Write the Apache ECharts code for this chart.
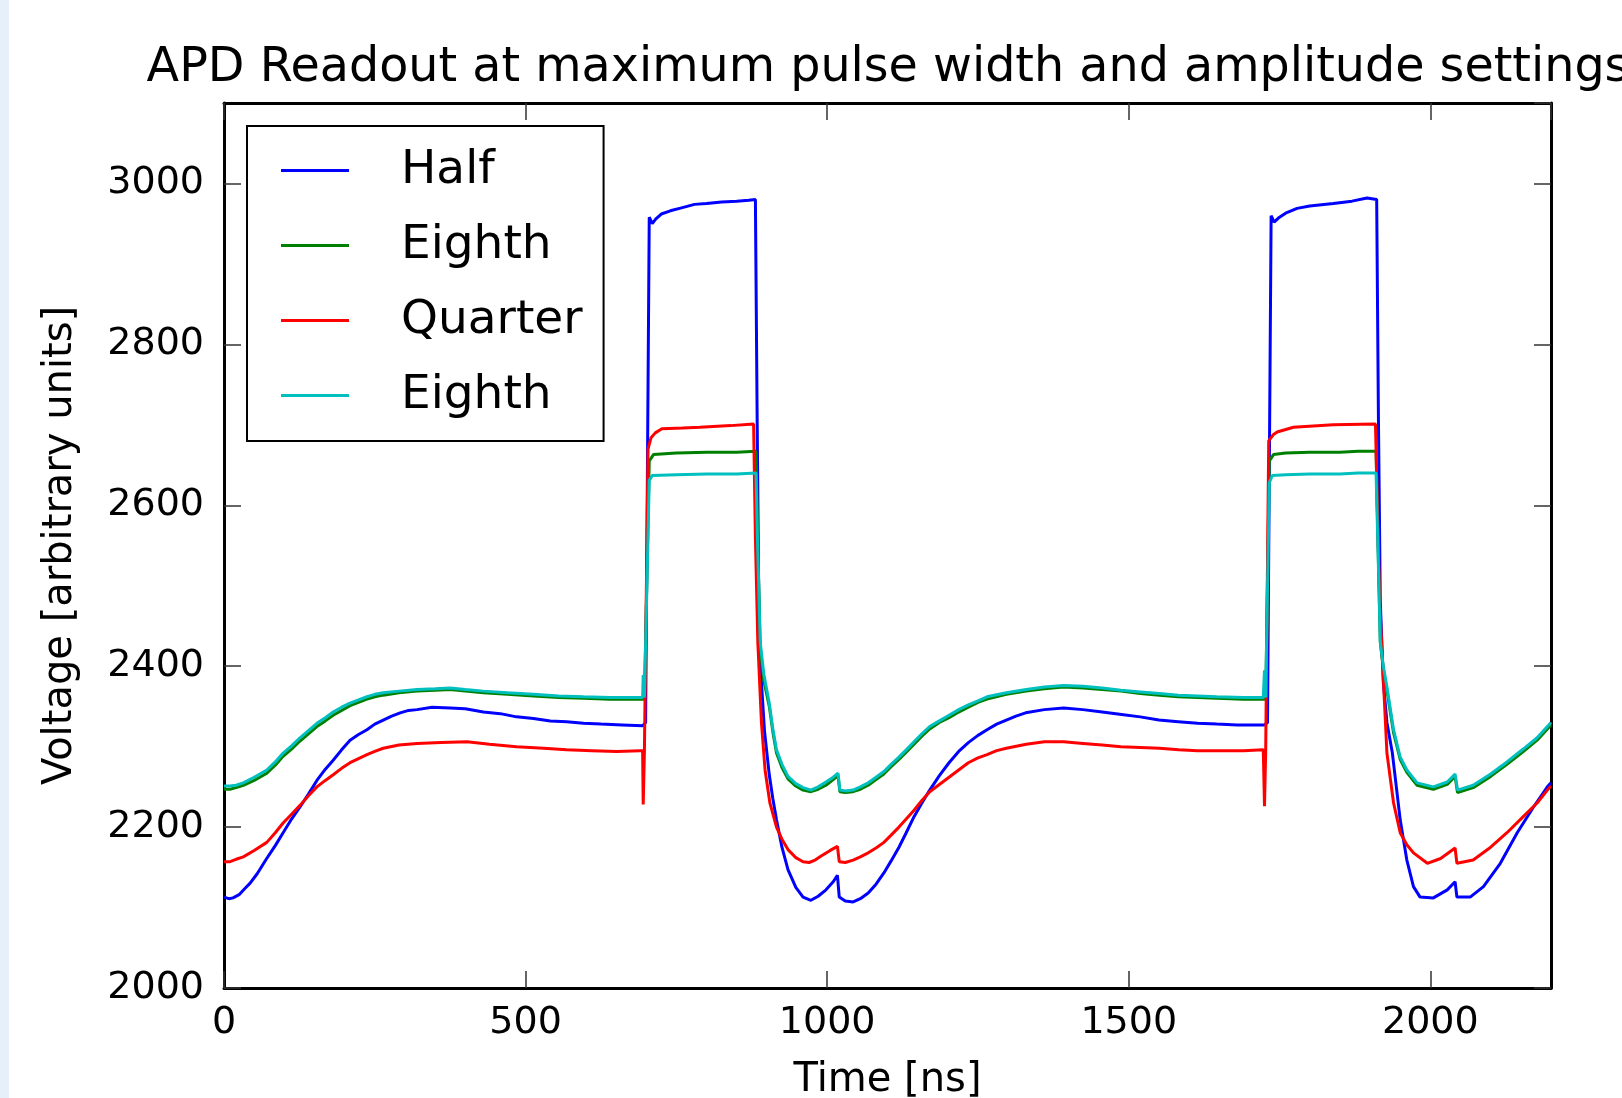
<!DOCTYPE html>
<html>
<head>
<meta charset="utf-8">
<script src="https://cdn.jsdelivr.net/npm/echarts@6/dist/echarts.min.js"></script>
<style>
html,body{margin:0;padding:0;background:#fff;}
#strip{position:absolute;left:0;top:0;width:9px;height:1098px;background:#e6f0fa;}
#chart{position:absolute;left:0;top:0;width:1622px;height:1098px;}
</style>
</head>
<body>
<div id="strip"></div>
<div id="chart"></div>
<script>
// ---------- data (time [ns], voltage [a.u.]) ----------
const chartTitle = 'APD Readout at maximum pulse width and amplitude settings';
const xName = 'Time [ns]';
const yName = 'Voltage [arbitrary units]';
const seriesNames = ['Half', 'Eighth', 'Quarter', 'Eighth'];
const seriesColors = ['#0000ff', '#008000', '#ff0000', '#00bfbf'];

const half = [
[0,2113],[8,2111],[15,2112],[25,2116],[35,2124],[43,2130],[55,2142],[70,2160],[85,2177],[98,2193],[112,2210],[126,2225],[140,2241],[154,2258],[168,2272],[181,2283],[195,2296],[209,2308],[223,2315],[237,2321],[250,2328],[264,2333],[278,2338],[292,2342],[306,2345],[320,2346],[345,2349],[375,2348],[400,2347],[430,2343],[458,2341],[485,2337],[513,2335],[541,2332],[568,2331],[596,2329],[625,2328],[660,2327],[694,2326],[699,2330],[705,2958],[710,2950],[716,2956],[725,2962],[740,2966],[760,2970],[780,2974],[800,2975],[825,2977],[850,2978],[870,2979],[881,2980],[884,2700],[887,2450],[891,2380],[896,2320],[904,2265],[910,2235],[916,2209],[925,2175],[935,2147],[948,2125],[960,2113],[973,2109],[985,2114],[998,2122],[1010,2132],[1017,2140],[1020,2113],[1030,2108],[1043,2107],[1055,2111],[1068,2118],[1081,2129],[1094,2143],[1106,2158],[1119,2175],[1131,2193],[1144,2213],[1157,2230],[1170,2246],[1186,2264],[1202,2280],[1218,2294],[1234,2305],[1250,2314],[1265,2321],[1281,2328],[1297,2333],[1313,2338],[1329,2342],[1360,2346],[1392,2348],[1424,2346],[1456,2343],[1488,2340],[1519,2337],[1550,2333],[1582,2331],[1614,2329],[1646,2328],[1680,2327],[1725,2327],[1730,2330],[1736,2960],[1741,2952],[1748,2957],[1760,2963],[1779,2969],[1800,2972],[1839,2975],[1870,2978],[1895,2982],[1911,2980],[1914,2700],[1917,2480],[1922,2380],[1928,2330],[1937,2292],[1950,2209],[1961,2159],[1972,2126],[1983,2113],[2005,2112],[2028,2122],[2041,2132],[2044,2113],[2066,2113],[2088,2126],[2116,2155],[2144,2193],[2171,2225],[2194,2250],[2200,2255]
];

const eighthA = [
[0,2247],[10,2247],[20,2249],[32,2252],[50,2258],[71,2267],[85,2277],[98,2288],[112,2297],[126,2307],[140,2316],[154,2325],[168,2332],[181,2339],[195,2345],[209,2351],[223,2355],[237,2359],[250,2362],[264,2364],[290,2367],[320,2369],[350,2370],[375,2371],[400,2369],[430,2367],[470,2365],[513,2363],[555,2361],[596,2360],[640,2359],[690,2359],[697,2359],[699,2360],[705,2655],[712,2663],[750,2665],[800,2666],[850,2666],[882,2667],[885,2550],[889,2420],[895,2382],[904,2350],[910,2318],[916,2292],[925,2274],[935,2260],[948,2251],[960,2246],[973,2244],[985,2247],[998,2252],[1010,2259],[1018,2264],[1021,2244],[1030,2243],[1043,2244],[1055,2247],[1068,2252],[1081,2259],[1094,2266],[1106,2275],[1119,2284],[1131,2293],[1144,2303],[1157,2313],[1170,2322],[1186,2330],[1202,2336],[1218,2343],[1234,2349],[1250,2355],[1265,2359],[1297,2365],[1330,2369],[1360,2372],[1392,2374],[1424,2373],[1456,2371],[1487,2369],[1519,2366],[1551,2364],[1582,2362],[1614,2361],[1646,2360],[1690,2359],[1727,2359],[1729,2360],[1733,2655],[1740,2663],[1760,2665],[1800,2666],[1850,2666],[1880,2667],[1910,2667],[1913,2560],[1917,2430],[1922,2396],[1928,2370],[1939,2317],[1950,2284],[1961,2268],[1978,2252],[2005,2247],[2028,2253],[2041,2263],[2045,2243],[2071,2249],[2100,2263],[2127,2278],[2154,2294],[2177,2308],[2200,2327]
];

const quarter = [
[0,2157],[10,2157],[20,2160],[32,2163],[50,2171],[71,2181],[85,2193],[98,2205],[112,2216],[126,2227],[140,2239],[154,2250],[168,2258],[181,2265],[195,2273],[209,2280],[223,2285],[237,2290],[250,2294],[264,2298],[290,2302],[320,2304],[360,2305],[403,2306],[440,2303],[485,2300],[530,2298],[568,2296],[610,2295],[651,2294],[690,2295],[694,2295],[695,2228],[697,2295],[699,2296],[703,2670],[708,2684],[715,2690],[726,2695],[760,2696],[789,2697],[840,2699],[878,2701],[881,2560],[885,2430],[891,2330],[897,2271],[905,2230],[916,2200],[925,2185],[935,2172],[948,2162],[960,2157],[970,2156],[980,2159],[990,2164],[1005,2171],[1017,2176],[1020,2157],[1030,2156],[1043,2159],[1055,2163],[1068,2168],[1081,2174],[1094,2181],[1106,2190],[1119,2200],[1131,2210],[1144,2221],[1157,2233],[1170,2244],[1186,2253],[1202,2262],[1218,2271],[1234,2280],[1250,2286],[1265,2290],[1281,2295],[1297,2298],[1330,2303],[1360,2306],[1392,2306],[1424,2304],[1456,2302],[1487,2300],[1519,2299],[1551,2298],[1583,2296],[1614,2295],[1650,2295],[1690,2295],[1723,2296],[1725,2226],[1727,2295],[1729,2296],[1732,2680],[1740,2688],[1746,2691],[1773,2697],[1839,2700],[1909,2701],[1912,2600],[1916,2480],[1920,2416],[1928,2292],[1939,2230],[1950,2193],[1961,2178],[1972,2168],[1995,2155],[2017,2161],[2041,2174],[2044,2155],[2071,2159],[2100,2175],[2127,2193],[2154,2213],[2177,2230],[2194,2246],[2200,2251]
];

const eighthB = [
[0,2251],[10,2251],[20,2252],[32,2255],[50,2262],[71,2271],[85,2281],[98,2292],[112,2301],[126,2311],[140,2320],[154,2329],[168,2336],[181,2343],[195,2349],[209,2354],[223,2358],[237,2362],[250,2365],[264,2367],[290,2369],[320,2371],[350,2372],[375,2373],[400,2371],[430,2369],[470,2367],[513,2365],[555,2363],[596,2362],[640,2361],[690,2361],[694,2361],[695,2389],[697,2361],[699,2362],[705,2631],[710,2637],[750,2638],[800,2639],[850,2639],[882,2640],[885,2540],[889,2430],[895,2390],[904,2354],[910,2322],[916,2296],[925,2278],[935,2263],[948,2254],[960,2249],[973,2246],[985,2250],[998,2256],[1010,2262],[1018,2267],[1021,2246],[1030,2245],[1043,2246],[1055,2250],[1068,2255],[1081,2262],[1094,2269],[1106,2278],[1119,2287],[1131,2296],[1144,2306],[1157,2316],[1170,2325],[1186,2332],[1202,2339],[1218,2346],[1234,2352],[1250,2357],[1265,2362],[1297,2367],[1330,2371],[1360,2374],[1392,2376],[1424,2375],[1456,2373],[1487,2370],[1519,2368],[1551,2366],[1582,2364],[1614,2363],[1646,2362],[1690,2361],[1723,2361],[1725,2395],[1727,2361],[1729,2362],[1733,2628],[1738,2637],[1760,2638],[1800,2639],[1850,2639],[1880,2640],[1910,2640],[1913,2550],[1917,2430],[1922,2400],[1928,2374],[1939,2321],[1950,2287],[1961,2271],[1978,2255],[2005,2250],[2028,2256],[2041,2266],[2045,2246],[2071,2252],[2100,2266],[2127,2281],[2154,2297],[2177,2311],[2200,2330]
];

const seriesData = [half, eighthA, quarter, eighthB];
const xTicks = [0, 500, 1000, 1500, 2000];
const yTicks = [2000, 2200, 2400, 2600, 2800, 3000];

// ---------- chart ----------
const FONT = 'DejaVu Sans';
const chart = echarts.init(document.getElementById('chart'), null, {renderer: 'canvas'});

const frameLine = {show: true, onZero: false, lineStyle: {color: '#000', width: 3}};
const tickStyle = {show: true, inside: true, length: 17, lineStyle: {color: '#333', width: 1.5}};

function xAxisBase(pos, showLabel) {
  return {
    type: 'value', position: pos, min: 0, max: 2200, interval: 500,
    axisLine: frameLine, axisTick: tickStyle, splitLine: {show: false},
    axisLabel: {
      show: showLabel, fontSize: 38, color: '#000', fontFamily: FONT, margin: 16,
      showMaxLabel: false,
      formatter: v => xTicks.includes(v) ? String(v) : ''
    }
  };
}
function yAxisBase(pos, showLabel) {
  return {
    type: 'value', position: pos, min: 2000, max: 3100, interval: 200,
    axisLine: frameLine, axisTick: tickStyle, splitLine: {show: false},
    axisLabel: {
      show: showLabel, fontSize: 38, color: '#000', fontFamily: FONT, margin: 20,
      showMaxLabel: false,
      formatter: v => yTicks.includes(v) ? String(v) : ''
    }
  };
}

const xBottom = Object.assign(xAxisBase('bottom', true), {
  name: xName, nameLocation: 'middle', nameGap: 73,
  nameTextStyle: {fontSize: 40, color: '#000', fontFamily: FONT}
});
const yLeft = Object.assign(yAxisBase('left', true), {
  name: yName, nameLocation: 'middle', nameGap: 143, nameRotate: 90,
  nameTextStyle: {fontSize: 40, color: '#000', fontFamily: FONT}
});

const option = {
  animation: false,
  backgroundColor: 'transparent',
  title: {
    text: chartTitle, left: 883, top: 40, textAlign: 'center',
    textStyle: {fontSize: 47.6, fontWeight: 'normal', color: '#000', fontFamily: FONT}
  },
  grid: {left: 224, right: 71, top: 103, bottom: 110, containLabel: false, outerBoundsMode: 'none'},
  xAxis: [xBottom, xAxisBase('top', false)],
  yAxis: [yLeft, yAxisBase('right', false)],
  legend: {
    orient: 'vertical', left: 247, top: 126,
    padding: [21, 21, 22, 34],
    itemWidth: 68, itemHeight: 3, itemGap: 28, icon: 'rect',
    borderColor: '#000', borderWidth: 2, backgroundColor: '#fff',
    data: seriesNames.map((n, i) => n + '#' + i),
    formatter: name => '{t|' + name.split('#')[0] + '}',
    textStyle: {
      color: '#000', fontFamily: FONT, fontSize: 47,
      rich: {t: {fontSize: 47, fontFamily: FONT, color: '#000', padding: [0, 0, 0, 47]}}
    }
  },
  series: seriesData.map((d, i) => ({
    name: seriesNames[i] + '#' + i,
    type: 'line',
    xAxisIndex: 0, yAxisIndex: 0,
    data: d,
    showSymbol: false, symbol: 'none',
    color: seriesColors[i],
    lineStyle: {color: seriesColors[i], width: 3},
    itemStyle: {color: seriesColors[i]},
    emphasis: {disabled: true},
    clip: true
  }))
};
chart.setOption(option);
</script>
</body>
</html>
